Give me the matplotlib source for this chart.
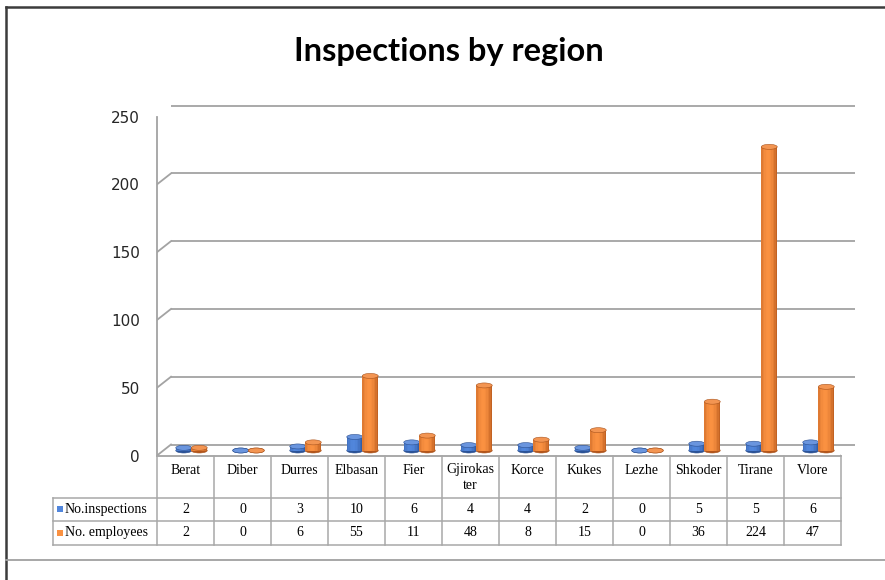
import textwrap

import matplotlib
matplotlib.use("Agg")
import matplotlib.pyplot as plt
import numpy as np
from matplotlib.colors import to_rgb
from matplotlib.lines import Line2D
from matplotlib.patches import Ellipse, Rectangle
from matplotlib.transforms import ScaledTranslation, blended_transform_factory

# ---- data -------------------------------------------------------------
regions = ["Berat", "Diber", "Durres", "Elbasan", "Fier", "Gjirokaster",
           "Korce", "Kukes", "Lezhe", "Shkoder", "Tirane", "Vlore"]
inspections = [2, 0, 3, 10, 6, 4, 4, 2, 0, 5, 5, 6]
employees = [2, 0, 6, 55, 11, 48, 8, 15, 0, 36, 224, 47]
series_names = ["No.inspections", "No. employees"]
y_ticks = [0, 50, 100, 150, 200, 250]
chart_title = "Inspections by region"

# ---- styling ----------------------------------------------------------
DPI = 100
W, H = 885, 580
GRID = "#a3a3a3"
TABLE_LINE = "#a8a8a8"
series_style = [
    dict(light="#5186dc", dark="#2b5398", top="#6a95de", edge="#2b4f8f"),
    dict(light="#fa9141", dark="#b4561b", top="#f39552", edge="#a9531c"),
]
bar_offsets = [-0.136, 0.136]
bar_width = 0.28

fig = plt.figure(figsize=(W / DPI, H / DPI), dpi=DPI)
fig.patch.set_facecolor("white")

# front plane of the plot area (pixel geometry converted to figure fractions)
front_left, front_right = 157, 841
front_zero, front_top = 455.5, 116.6
ax = fig.add_axes([front_left / W, (H - front_zero) / H,
                   (front_right - front_left) / W, (front_zero - front_top) / H])
ax.set_xlim(0, len(regions))
ax.set_ylim(y_ticks[0], y_ticks[-1])
ax.set_facecolor("none")
for s in ax.spines.values():
    s.set_visible(False)
ax.set_xticks([])
ax.set_yticks(y_ticks)
ax.tick_params(axis="y", length=0, pad=12.2, labelsize=11, labelcolor="#262626")

px_per_unit = (front_zero - front_top) / (y_ticks[-1] - y_ticks[0])

# depth translations: back wall and the middle row where cylinders stand
back = ax.transData + ScaledTranslation(14 / DPI, 11 / DPI, fig.dpi_scale_trans)
mid = ax.transData + ScaledTranslation(6 / DPI, 5 / DPI, fig.dpi_scale_trans)

n = len(regions)

# back wall gridlines with the slanted side-wall segments
for v in y_ticks:
    ax.plot([0, n], [v, v], color=GRID, lw=1.3, transform=back, clip_on=False,
            zorder=1, solid_capstyle="butt")
    x0, y0 = ax.transData.transform((0, v))
    x1, y1 = back.transform((0, v))
    ax.add_artist(Line2D([x0, x1], [y0, y1], color=GRID, lw=1.3,
                         transform=None, zorder=1))

# front vertical edge of the side wall
ax.plot([0, 0], [y_ticks[0], y_ticks[-1]], color=GRID, lw=1.3,
        transform=ax.transData, clip_on=False, zorder=1)

# floor: front edge and right slanted edge
ax.plot([0, n], [0, 0], color=GRID, lw=1.3, clip_on=False, zorder=1)
xa, ya = ax.transData.transform((n, 0))
xb, yb = back.transform((n, 0))
ax.add_artist(Line2D([xa, xb], [ya, yb], color=GRID, lw=1.3, transform=None, zorder=1))


def strip_colors(light, dark, count):
    lo, hi = np.array(to_rgb(dark)), np.array(to_rgb(light))
    out = []
    for k in range(count):
        u = (k + 0.5) / count
        f = max(0.0, 1 - ((u - 0.42) / 0.6) ** 2)
        out.append(tuple(lo + (hi - lo) * f))
    return out


ell_h = 5.0 / px_per_unit
n_strips = 11
z = 3
for i in range(n):
    for s, values in enumerate([inspections, employees]):
        st = series_style[s]
        v = values[i]
        xc = i + 0.5 + bar_offsets[s]
        x_left = xc - bar_width / 2
        cols = strip_colors(st["light"], st["dark"], n_strips)
        # base ellipse
        ax.add_patch(Ellipse((xc, 0), bar_width, ell_h, facecolor=st["dark"],
                             edgecolor=st["edge"], lw=0.4, transform=mid,
                             clip_on=False, zorder=z))
        if v > 0:
            sw = bar_width / n_strips
            for k, c in enumerate(cols):
                ax.add_patch(Rectangle((x_left + k * sw, 0), sw * 1.02, v,
                                       facecolor=c, edgecolor="none",
                                       transform=mid, clip_on=False, zorder=z + 0.1))
        ax.add_patch(Ellipse((xc, v), bar_width, ell_h, facecolor=st["top"],
                             edgecolor=st["edge"], lw=0.4, transform=mid,
                             clip_on=False, zorder=z + 0.2))
        z += 1

# ---- data table under the plot ----------------------------------------
tbl = blended_transform_factory(ax.transData, ax.transAxes)
ax_h_px = front_zero - front_top
row_edges_px = [0, 42, 65.5, 89]
row_y = [-p / ax_h_px for p in row_edges_px]
label_left = (53 - front_left) / ((front_right - front_left) / n)

for xv in range(n + 1):
    ax.plot([xv, xv], [row_y[0], row_y[-1]], color=TABLE_LINE, lw=1.1,
            transform=tbl, clip_on=False, zorder=2)
ax.plot([label_left, label_left], [row_y[1], row_y[-1]], color=TABLE_LINE,
        lw=1.1, transform=tbl, clip_on=False, zorder=2)
for yv in row_y[1:]:
    ax.plot([label_left, n], [yv, yv], color=TABLE_LINE, lw=1.1,
            transform=tbl, clip_on=False, zorder=2)

serif = "Liberation Serif"
head_top = -8 / ax_h_px
for i, name in enumerate(regions):
    label = textwrap.fill(name, 8, break_long_words=True)
    ax.text(i + 0.5, head_top, label, ha="center", va="top", fontsize=10,
            family=serif, transform=tbl, linespacing=1.25, color="black")

for r, values in enumerate([inspections, employees]):
    yc = (row_y[r + 1] + row_y[r + 2]) / 2
    for i, v in enumerate(values):
        ax.text(i + 0.5, yc, str(v), ha="center", va="center", fontsize=10,
                family=serif, transform=tbl, color="black")
    sq_h = 6 / ax_h_px
    sq_w = 6 / ((front_right - front_left) / n)
    ax.add_patch(Rectangle((label_left + 0.07, yc - sq_h / 2), sq_w, sq_h,
                           facecolor=series_style[r]["light"], edgecolor="none",
                           transform=tbl, clip_on=False, zorder=2))
    ax.text(label_left + 0.07 + sq_w + 0.03, yc, series_names[r], ha="left",
            va="center", fontsize=10, family=serif, transform=tbl, color="black")

# ---- title and chart frame --------------------------------------------
fig.text(448.5 / W, 1 - 52 / H, chart_title, ha="center", va="center",
         fontsize=23.5, fontweight="bold", family="Lato", color="black")

fig.add_artist(Line2D([6 / W, 1], [1 - 7 / H, 1 - 7 / H], color="#3c3c3c", lw=1.8))
fig.add_artist(Line2D([6 / W, 6 / W], [0, 1 - 7 / H], color="#3c3c3c", lw=1.8))
fig.add_artist(Line2D([6 / W, 1], [20 / H, 20 / H], color="#a0a0a0", lw=1.3))

fig.savefig("out.png", dpi=DPI)
